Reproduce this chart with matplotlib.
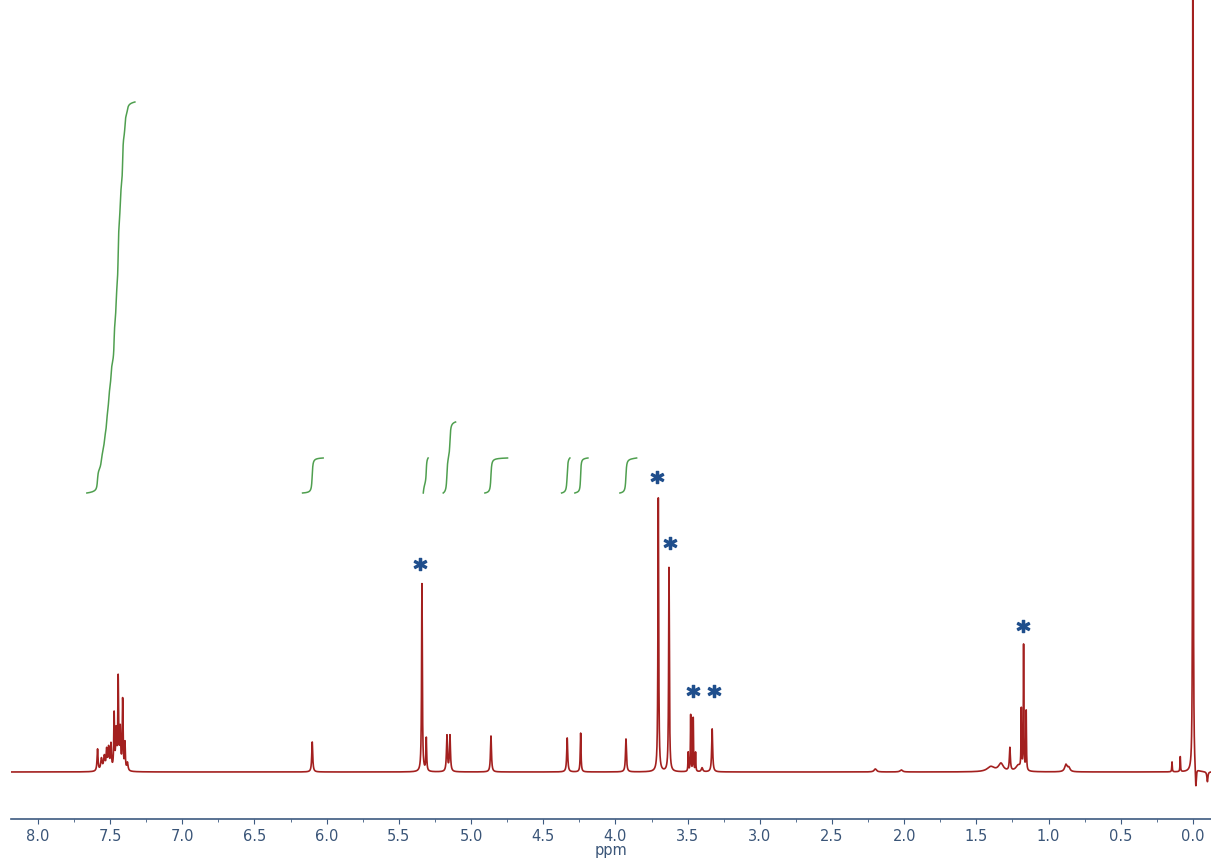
import numpy as np
import matplotlib
matplotlib.use("Agg")
import matplotlib.pyplot as plt

plt.rcParams['font.family'] = ['DejaVu Sans']

# peak list (ppm, intensity in arbitrary units, half width)
peak_ppm = [7.587, 7.560, 7.540, 7.524, 7.510, 7.494, 7.472, 7.458, 7.444, 7.430, 7.413, 7.397, 7.380,
            6.100, 5.340, 5.310, 5.167, 5.146, 4.862, 4.334, 4.241, 3.927,
            3.703, 3.629, 3.496, 3.479, 3.461, 3.445, 3.400, 3.330,
            2.200, 2.020, 1.400, 1.330, 1.268, 1.210, 1.189, 1.173, 1.155, 0.880, 0.860,
            0.145, 0.088, 0.000, -0.020, -0.100]
peak_height = [22, 12, 14, 19, 22, 25, 55, 38, 90, 40, 70, 27, 8,
               30, 188, 33, 36, 36, 36, 34, 39, 33,
               275, 205, 19, 57, 54, 19, 4, 43,
               3, 2, 5, 8, 23, 6, 60, 126, 60, 7, 4,
               10, 15, 1500, -22, -10]
peak_width = [0.004, 0.006, 0.006, 0.004, 0.005, 0.004, 0.003, 0.004, 0.003, 0.004, 0.003, 0.003, 0.005,
              0.004, 0.003, 0.003, 0.004, 0.004, 0.004, 0.004, 0.003, 0.004,
              0.003, 0.003, 0.002, 0.002, 0.002, 0.002, 0.006, 0.004,
              0.010, 0.010, 0.030, 0.020, 0.004, 0.020, 0.002, 0.002, 0.002, 0.010, 0.010,
              0.002, 0.002, 0.0015, 0.004, 0.004]

# integral regions (from ppm, to ppm, rise)
int_start = [7.661, 6.167, 5.331, 5.193, 4.904, 4.373, 4.281, 3.969]
int_end = [7.328, 6.024, 5.297, 5.107, 4.747, 4.315, 4.190, 3.853]
int_height = [391, 35, 35, 71, 35, 35, 35, 35]
int_base = 279

# asterisks marking solvent signals
star_ppm = [5.354, 3.715, 3.625, 3.466, 3.314, 1.177]
star_height = [208, 295, 229, 81, 81, 146]

ppm = np.arange(8.19, -0.125, -0.0004)
spec = np.zeros_like(ppm)
for p, h, w in zip(peak_ppm, peak_height, peak_width):
    spec += h / (1 + ((ppm - p) / w) ** 2)

fig = plt.figure(figsize=(12.11, 8.61), dpi=100)
ax = fig.add_axes([0.009, 0.0488, 0.991, 0.9512])

ax.plot(ppm, spec, color='#a3201f', lw=1.2)

for a, b, h in zip(int_start, int_end, int_height):
    m = (ppm <= a) & (ppm >= b)
    c = np.cumsum(spec[m])
    c = (c - c[0]) / (c[-1] - c[0]) * h + int_base
    ax.plot(ppm[m], c, color='#4f9f4f', lw=1.1)

ax.plot(star_ppm, star_height, ls='none', marker='$\\mathbf{*}$', ms=9, color='#1f4e8c')

ax.set_xlim(8.187, -0.125)
ax.set_ylim(-47, 772)
ax.set_xticks(np.arange(8.0, -0.01, -0.5))
ax.set_xticks(np.arange(7.75, 0, -0.5), minor=True)
ax.xaxis.set_major_formatter(matplotlib.ticker.FormatStrFormatter('%.1f'))
ax.set_yticks([])
for s in ['top', 'left', 'right']:
    ax.spines[s].set_visible(False)
ax.spines['bottom'].set_color('#3d5a80')
ax.spines['bottom'].set_linewidth(1.2)
ax.tick_params(axis='x', which='major', length=3.5, color='#3d5a80', labelcolor='#3a5578', labelsize=10.5, pad=4)
ax.tick_params(axis='x', which='minor', length=2, color='#3d5a80')
ax.set_xlabel('ppm', fontsize=10.5, color='#3a5578', labelpad=-1)
ax.patch.set_alpha(0)

fig.savefig('out.png', dpi=100)
